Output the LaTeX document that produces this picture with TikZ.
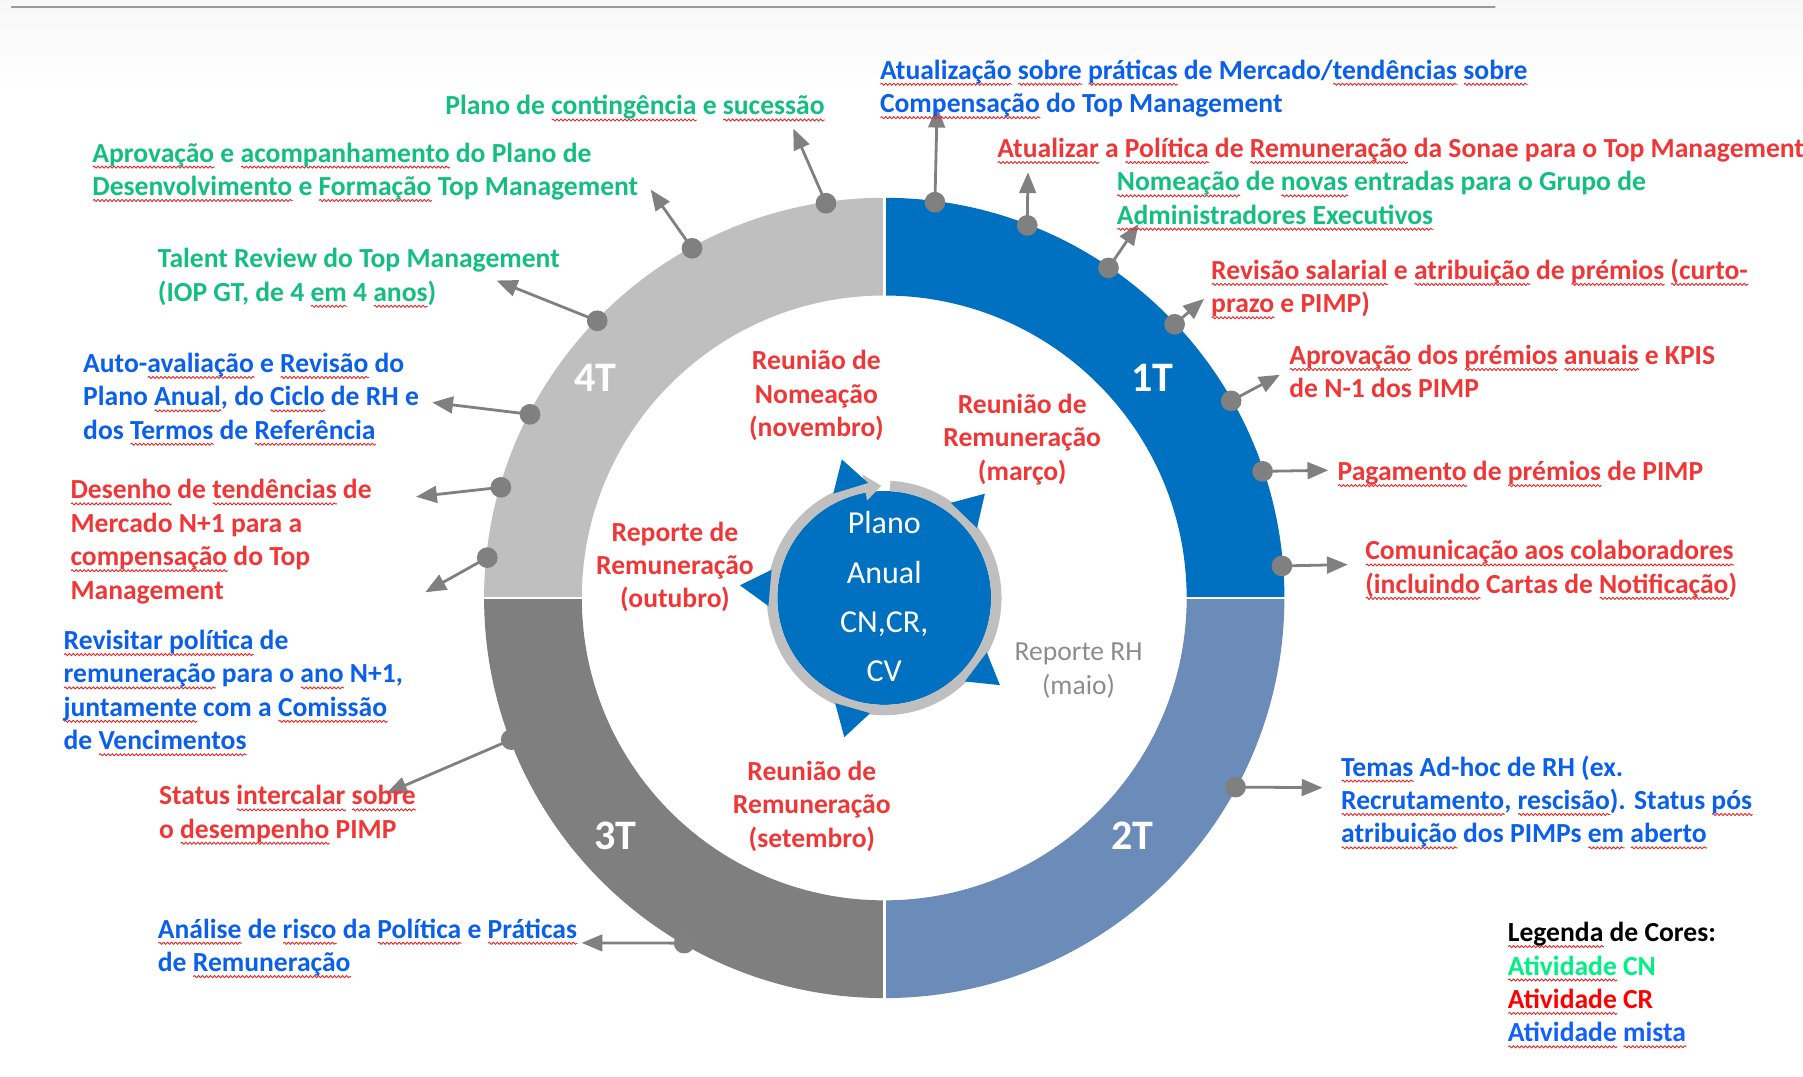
\documentclass[tikz,border=0pt]{standalone}
\usepackage{fontspec}
\setmainfont{Carlito}
\usepackage{tikz}
\usetikzlibrary{arrows,decorations.pathmorphing}

\definecolor{qone}{HTML}{0070C0}
\definecolor{qtwo}{HTML}{6B8BB8}
\definecolor{qthree}{HTML}{7F7F7F}
\definecolor{qfour}{HTML}{BFBFBF}
\definecolor{dotgray}{HTML}{808080}
\definecolor{cngreen}{RGB}{20,190,130}
\definecolor{crred}{RGB}{240,55,55}
\definecolor{mixblue}{RGB}{10,95,235}
\definecolor{cnbright}{RGB}{0,240,130}
\definecolor{crbright}{RGB}{255,0,0}
\definecolor{mixbright}{RGB}{20,95,255}
\definecolor{spellred}{RGB}{230,40,40}

% wavy spell-check underline under a word
\newsavebox\sqbox
\newdimen\sqwd
\newcommand\sq[1]{\sbox\sqbox{#1}\sqwd=\wd\sqbox\rlap{\tikz[baseline=0pt]\draw[spellred,line width=0.45pt,line cap=butt,decorate,decoration={snake,amplitude=0.55pt,segment length=2pt}] (0pt,-2.5pt) -- (\sqwd,-2.5pt);}\usebox\sqbox}
\newcommand\lblfont{\bfseries\fontsize{13.8}{16.7}\selectfont}

\begin{document}
\begin{tikzpicture}[line cap=round,line join=round,>=triangle 45,x=0.575pt,y=0.575pt,
  lbl/.style={anchor=base west,align=left,inner sep=0pt,font=\lblfont},
  mid/.style={align=center,inner sep=0pt,font=\lblfont,text=crred},
  qlbl/.style={text=white,inner sep=0pt,font=\bfseries\fontsize{21}{25}\selectfont},
  tick/.style={->,color=dotgray,line width=1.4pt}]

\useasboundingbox (-769.,-416.) rectangle (799.,520.);
\shade[top color=black!3,bottom color=white] (-769.,520.) rectangle (799.,440.);
\draw[color=black!40,line width=0.7pt] (-759.,514.) -- (531.,514.);

% the four quarters
\fill[qone] (0:263.) arc (0:90:263.) -- (90:348.) arc (90:0:348.) -- cycle;
\fill[qtwo] (-90:263.) arc (-90:0:263.) -- (0:348.) arc (0:-90:348.) -- cycle;
\fill[qthree] (180:263.) arc (180:270:263.) -- (270:348.) arc (270:180:348.) -- cycle;
\fill[qfour] (90:263.) arc (90:180:263.) -- (180:348.) arc (180:90:348.) -- cycle;
\draw[white,line width=1.4pt] (0.,263.) -- (0.,349.);
\draw[white,line width=1.4pt] (0.,-263.) -- (0.,-349.);
\draw[white,line width=1.4pt] (263.,0.) -- (349.,0.);
\draw[white,line width=1.4pt] (-263.,0.) -- (-349.,0.);

\node[qlbl] (q1) at (233.,191.) {1T};
\node[qlbl] (q2) at (216.,-207.) {2T};
\node[qlbl] (q3) at (-234.,-207.) {3T};
\node[qlbl] (q4) at (-251.,191.) {4T};

% centre: plan with cycle arrow
\fill[qone] (0.,0.) circle (93.);
\draw[color=qfour,line width=5.2pt,line cap=butt] (87:97.5) arc (87:-260:97.5);
\fill[qfour] (100:86.) -- (91.5:97.5) -- (100:109.) -- cycle;
\fill[qone] (98:101.) -- (107:126.) -- (116:101.) -- cycle;
\fill[qone] (37:101.) -- (46:126.) -- (55:101.) -- cycle;
\fill[qone] (-46:101.) -- (-37:126.) -- (-28:101.) -- cycle;
\fill[qone] (-115:101.) -- (-106:126.) -- (-97:101.) -- cycle;
\fill[qone] (166:101.) -- (175:126.) -- (184:101.) -- cycle;
\node[text=white,align=center,inner sep=0pt,font=\fontsize{16}{24.7}\selectfont] (plano) at (0.,1.) {Plano\\Anual\\CN,CR,\\CV};

\node[mid] (rnov) at (-59.,176.) {Reunião de\\Nomeação\\(novembro)};
\node[mid] (rmar) at (120.,138.) {Reunião de\\Remuneração\\(março)};
\node[mid] (rout) at (-182.,27.) {Reporte de\\Remuneração\\(outubro)};
\node[mid] (rset) at (-63.,-181.) {Reunião de\\Remuneração\\(setembro)};
\node[mid,text=black!45,font=\fontsize{13.8}{16.7}\selectfont] (rmai) at (169.,-63.) {Reporte RH\\(maio)};

% dots on the ring and their arrows
\coordinate (d1) at (82.7:347.);
\coordinate (t1) at (46.,427.);
\draw[tick] (d1) -- (t1);
\coordinate (d2) at (69.:347.);
\coordinate (t2) at (125.,370.);
\draw[tick] (d2) -- (t2);
\coordinate (d3) at (55.8:347.);
\coordinate (t3) at (221.,325.);
\draw[tick] (d3) -- (t3);
\coordinate (d4) at (43.3:347.);
\coordinate (t4) at (278.,260.);
\draw[tick] (d4) -- (t4);
\coordinate (d5) at (29.6:347.);
\coordinate (t5) at (344.,194.);
\draw[tick] (d5) -- (t5);
\coordinate (d6) at (18.5:347.);
\coordinate (t6) at (386.,111.);
\draw[tick] (d6) -- (t6);
\coordinate (d7) at (4.6:347.);
\coordinate (t7) at (403.,29.);
\draw[tick] (d7) -- (t7);
\coordinate (d8) at (-28.3:347.);
\coordinate (t8) at (381.,-165.);
\draw[tick] (d8) -- (t8);
\coordinate (d9) at (200.8:347.);
\coordinate (t9) at (-433.,-170.);
\draw[tick] (d9) -- (t9);
\coordinate (d10) at (239.9:347.);
\coordinate (t10) at (-263.,-300.);
\draw[tick] (d10) -- (t10);
\coordinate (d11) at (174.2:347.);
\coordinate (t11) at (-399.,5.);
\draw[tick] (d11) -- (t11);
\coordinate (d12) at (163.9:347.);
\coordinate (t12) at (-407.,88.);
\draw[tick] (d12) -- (t12);
\coordinate (d13) at (152.6:347.);
\coordinate (t13) at (-393.,170.);
\draw[tick] (d13) -- (t13);
\coordinate (d14) at (136.:347.);
\coordinate (t14) at (-337.,276.);
\draw[tick] (d14) -- (t14);
\coordinate (d15) at (118.8:347.);
\coordinate (t15) at (-203.,355.);
\draw[tick] (d15) -- (t15);
\coordinate (d16) at (98.4:347.);
\coordinate (t16) at (-79.,408.);
\draw[tick] (d16) -- (t16);
\fill[dotgray] (d1) circle (9.);
\fill[dotgray] (d2) circle (9.);
\fill[dotgray] (d3) circle (9.);
\fill[dotgray] (d4) circle (9.);
\fill[dotgray] (d5) circle (9.);
\fill[dotgray] (d6) circle (9.);
\fill[dotgray] (d7) circle (9.);
\fill[dotgray] (d8) circle (9.);
\fill[dotgray] (d9) circle (9.);
\fill[dotgray] (d10) circle (9.);
\fill[dotgray] (d11) circle (9.);
\fill[dotgray] (d12) circle (9.);
\fill[dotgray] (d13) circle (9.);
\fill[dotgray] (d14) circle (9.);
\fill[dotgray] (d15) circle (9.);
\fill[dotgray] (d16) circle (9.);

% activities (base west = baseline of the last line)
\node[lbl,text=mixblue] (atual) at (-4.,422.) {\sq{Atualização} \sq{sobre} \sq{práticas} de Mercado/\sq{tendências} \sq{sobre}\\\sq{Compensação} do Top Management};
\node[lbl,text=crred] (politica) at (98.,383.) {\sq{Atualizar} a \sq{Política} de \sq{Remuneração} da Sonae para o Top Management};
\node[lbl,text=cngreen] (nomeac) at (202.,325.) {\sq{Nomeação} de \sq{novas} entradas para o Grupo de\\\sq{Administradores Executivos}};
\node[lbl,text=crred] (revsal) at (284.,248.) {\sq{Revisão salarial} e \sq{atribuição} de \sq{prémios} \sq{(curto-}\\\sq{prazo} e PIMP)};
\node[lbl,text=crred] (aprpre) at (352.,174.) {\sq{Aprovação} dos \sq{prémios} \sq{anuais} e KPIS\\de N-1 dos PIMP};
\node[lbl,text=crred] (pagam) at (394.,102.) {\sq{Pagamento} de \sq{prémios} de PIMP};
\node[lbl,text=crred] (comun) at (418.,4.) {\sq{Comunicação aos colaboradores}\\\sq{(incluindo} Cartas de \sq{Notificação})};
\node[lbl,text=mixblue] (temas) at (397.,-213.) {\sq{Temas} Ad-hoc de RH (ex.\\\sq{Recrutamento}, \sq{rescisão}). Status \sq{pós}\\\sq{atribuição} dos PIMPs \sq{em} \sq{aberto}};
\node[lbl,text=mixblue] (analise) at (-632.,-325.) {\sq{Análise} de \sq{risco} da \sq{Política} e \sq{Práticas}\\de \sq{Remuneração}};
\node[lbl,text=crred] (status) at (-631.,-209.) {Status \sq{intercalar} \sq{sobre}\\o \sq{desempenho} PIMP};
\node[lbl,text=mixblue] (revis) at (-714.,-132.) {\sq{Revisitar política} de\\\sq{remuneração} para o \sq{ano} N+1,\\\sq{juntamente} com a \sq{Comissão}\\de \sq{Vencimentos}};
\node[lbl,text=crred] (desenho) at (-708.,-1.) {\sq{Desenho} de \sq{tendências} de\\Mercado N+1 para a\\\sq{compensação} do Top\\Management};
\node[lbl,text=mixblue] (autoav) at (-697.,138.) {Auto-\sq{avaliação} e \sq{Revisão} do\\Plano \sq{Anual}, do \sq{Ciclo} de RH e\\dos \sq{Termos} de \sq{Referência}};
\node[lbl,text=cngreen] (talent) at (-632.,258.) {Talent Review do Top Management\\(IOP GT, de 4 \sq{em} 4 \sq{anos})};
\node[lbl,text=cngreen] (desenv) at (-689.,350.) {\sq{Aprovação} e \sq{acompanhamento} do Plano de\\\sq{Desenvolvimento} e \sq{Formação} Top Management};
\node[lbl,text=cngreen] (conting) at (-382.,420.) {Plano de \sq{contingência} e \sq{sucessão}};

% colour key
\node[lbl,text=black] (legenda) at (542.,-386.) {\sq{Legenda} de Cores:\\\textcolor{cnbright}{\sq{Atividade} CN}\\\textcolor{crbright}{\sq{Atividade} CR}\\\textcolor{mixbright}{\sq{Atividade} \sq{mista}}};
\end{tikzpicture}
\end{document}
